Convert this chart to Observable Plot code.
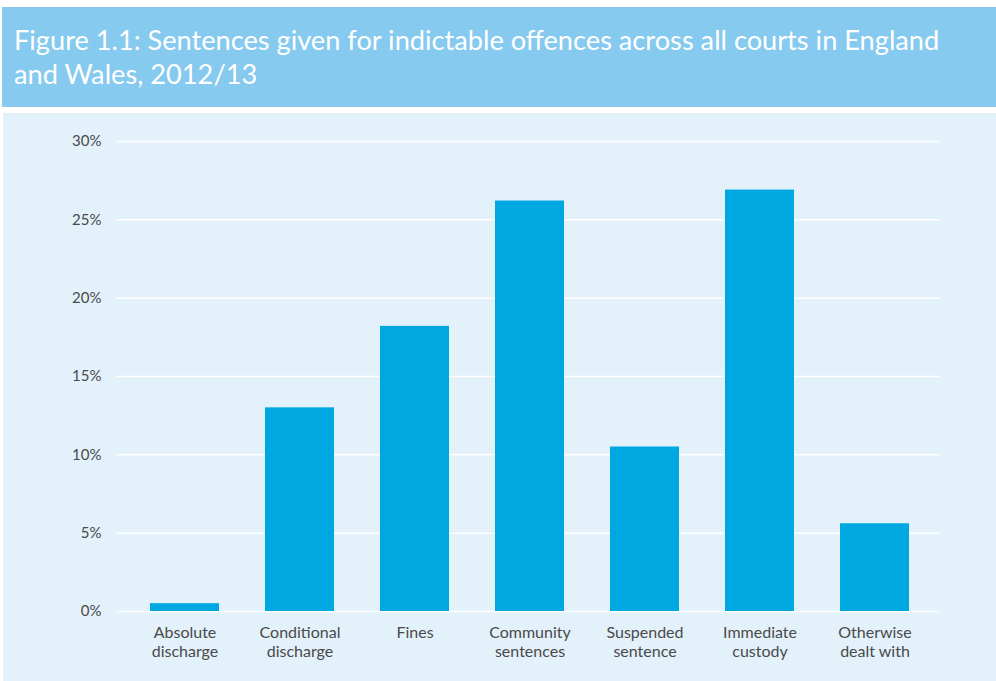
<!DOCTYPE html>
<html>
<head>
<meta charset="utf-8">
<script src="https://cdn.jsdelivr.net/npm/d3@7"></script>
<script src="https://cdn.jsdelivr.net/npm/@observablehq/plot@0.6"></script>
<style>
  html, body { margin: 0; padding: 0; background: #ffffff; width: 996px; height: 681px; overflow: hidden; }
  #title {
    position: absolute; left: 2px; top: 7px; width: 994px; height: 100px;
    background: #87caef; color: #ffffff; box-sizing: border-box;
    font-family: Lato, "Noto Sans", sans-serif; font-size: 27.2px; line-height: 34px;
    padding: 16px 0 0 12px;
  }
  #panel { position: absolute; left: 3px; top: 113px; width: 993px; height: 568px; background: #e3f1fb; }
  #panel svg { display: block; }
</style>
</head>
<body>
<div id="title">Figure 1.1: Sentences given for indictable offences across all courts in England<br>and Wales, 2012/13</div>
<div id="panel"></div>
<script>
const categories = ["Absolute\ndischarge", "Conditional\ndischarge", "Fines", "Community\nsentences", "Suspended\nsentence", "Immediate\ncustody", "Otherwise\ndealt with"];
const shares = [0.5, 13.0, 18.2, 26.2, 10.5, 26.9, 5.6];
const yTicks = [0, 5, 10, 15, 20, 25, 30];

const data = categories.map((c, i) => ({category: c, value: shares[i]}));

const chart = Plot.plot({
  width: 993,
  height: 568,
  marginLeft: 114,
  marginRight: 57,
  marginTop: 28,
  marginBottom: 70,
  style: {background: "transparent", fontFamily: "Lato, 'Noto Sans', sans-serif", fontSize: "15px", color: "#4a4a4a"},
  x: {domain: categories, paddingInner: 0.4, paddingOuter: 0.2, insetLeft: 10, insetRight: 7, label: null},
  y: {domain: [0, 30], label: null},
  marks: [
    Plot.ruleY(yTicks, {stroke: "#ffffff", strokeWidth: 1.5}),
    Plot.barY(data, {x: "category", y: "value", fill: "#00a8e2"}),
    Plot.axisY({ticks: yTicks, tickSize: 0, tickPadding: 16, tickFormat: d => d + "%", fontSize: 15, label: null}),
    Plot.axisX({tickSize: 0, tickPadding: 12.5, fontSize: 16, lineHeight: 1.2, label: null})
  ]
});
document.getElementById("panel").appendChild(chart);
</script>
</body>
</html>
